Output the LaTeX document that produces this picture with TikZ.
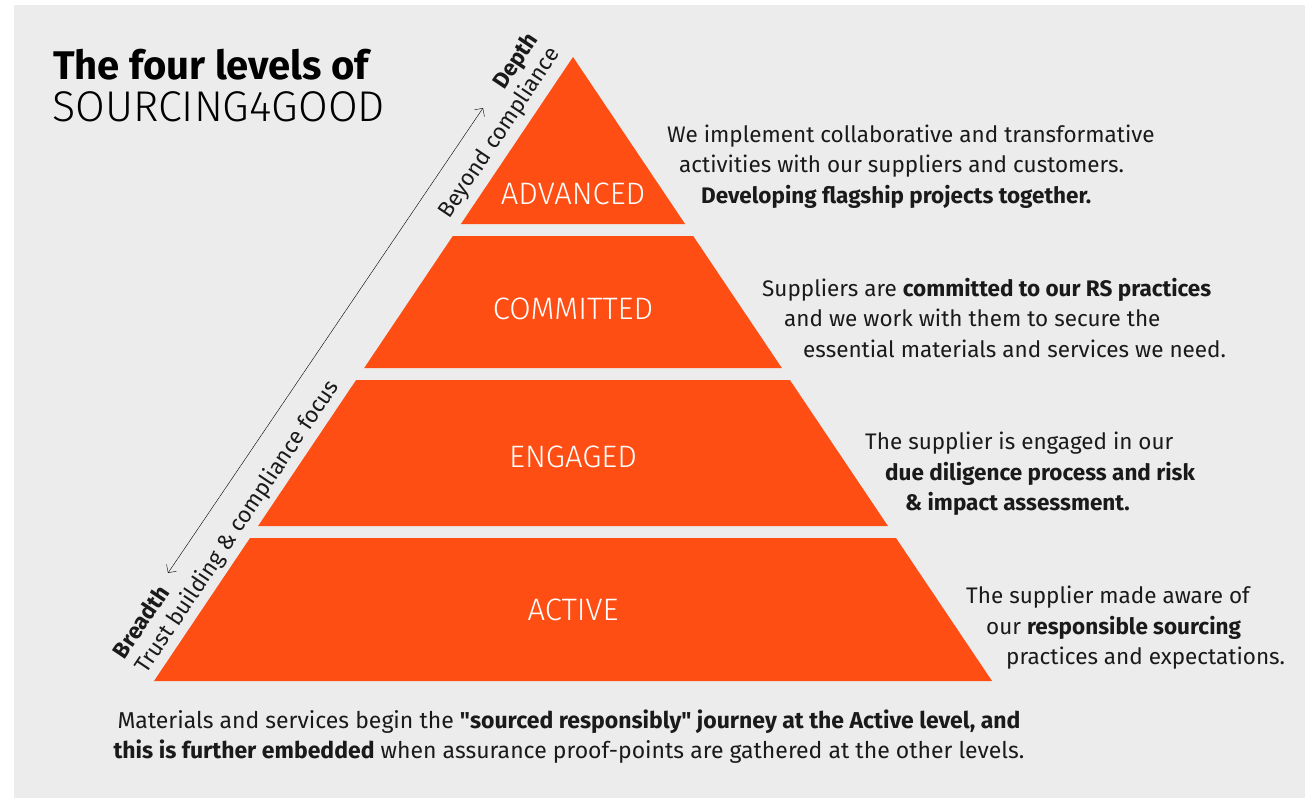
\documentclass[tikz,border=0pt]{standalone}
\usepackage{fontspec}
\setmainfont{Fira Sans}
\newfontfamily\thinfont{Fira Sans Light}
\usetikzlibrary{arrows.meta, calc}
\definecolor{sfgorange}{HTML}{FF4E14}
\definecolor{sfggrey}{HTML}{ECECEC}
\definecolor{sfgtext}{HTML}{1A1A1A}

\begin{document}
\begin{tikzpicture}[
      x=1pt, y=-1pt,
      every node/.style={font=\fontsize{22.5}{26}\selectfont, text=sfgtext, inner sep=0pt},
      level/.style={font=\fontsize{31}{34}\selectfont\thinfont, text=white},
      note/.style={anchor=mid west},
      side/.style={rotate=56.2, anchor=center, font=\fontsize{22.5}{26}\selectfont},
      band/.style={fill=sfgorange, draw=none},
    ]
    \useasboundingbox (0,0) rectangle (1305,798);
    \fill[sfggrey] (14,5) rectangle (1305,798);

    % title
    \node[note, font=\fontsize{40}{44}\selectfont\bfseries, text=black] (title) at (53,77) {The four levels of};
    \node[note, font=\fontsize{43}{46}\selectfont\thinfont, text=black] (brand) at (52,119) {SOURCING4GOOD};

    % pyramid, top band first
    \coordinate (apex) at (573,57);
    \fill[band] (apex) -- (685.1,224) -- (460.9,224) -- cycle;
    \foreach \top/\bot in {236/368, 380/526, 538/681} {
      \pgfmathsetmacro\wt{(\top-57)*0.6715}
      \pgfmathsetmacro\wb{(\bot-57)*0.6715}
      \fill[band] (573-\wt,\top) -- (573+\wt,\top) -- (573+\wb,\bot) -- (573-\wb,\bot) -- cycle;
    }
    \node[level] (advanced) at (573,194) {ADVANCED};
    \node[level] (committed) at (573,309) {COMMITTED};
    \node[level] (engaged) at (573,457) {ENGAGED};
    \node[level] (active) at (573,610) {ACTIVE};

    % depth / breadth axis
    \coordinate (breadth end) at (168,573);
    \coordinate (depth end) at (483,108);
    \draw[thin, {Straight Barb[length=6pt, width=12pt]}-{Straight Barb[length=6pt, width=12pt]}]
      (breadth end) -- (depth end);
    \node[side, align=right] (depth) at (489,126) {\textbf{Depth}\\Beyond compliance};
    \node[side, align=left] (breadth) at (227,520) {\textbf{Breadth}\\Trust building \& compliance focus};

    % descriptions
    \node[note] (adv a) at (667,140) {We implement collaborative and transformative};
    \node[note] (adv b) at (679,170) {activities with our suppliers and customers.};
    \node[note] (adv c) at (701,201) {\textbf{Developing flagship projects together.}};

    \node[note] (com a) at (762,294) {Suppliers are \textbf{committed to our RS practices}};
    \node[note] (com b) at (784,324) {and we work with them to secure the};
    \node[note] (com c) at (803,355) {essential materials and services we need.};

    \node[note] (eng a) at (865,447) {The supplier is engaged in our};
    \node[note] (eng b) at (885,478) {\textbf{due diligence process and risk}};
    \node[note] (eng c) at (905,508) {\textbf{\& impact assessment.}};

    \node[note] (act a) at (966,601) {The supplier made aware of};
    \node[note] (act b) at (986,632) {our \textbf{responsible sourcing}};
    \node[note] (act c) at (1006,662) {practices and expectations.};

    \node[align=center, font=\fontsize{23}{30}\selectfont] (journey) at (569,737)
      {Materials and services begin the \textbf{\textquotedbl sourced responsibly\textquotedbl{} journey at the Active level, and}\\
       \textbf{this is further embedded} when assurance proof-points are gathered at the other levels.};
  \end{tikzpicture}
\end{document}
